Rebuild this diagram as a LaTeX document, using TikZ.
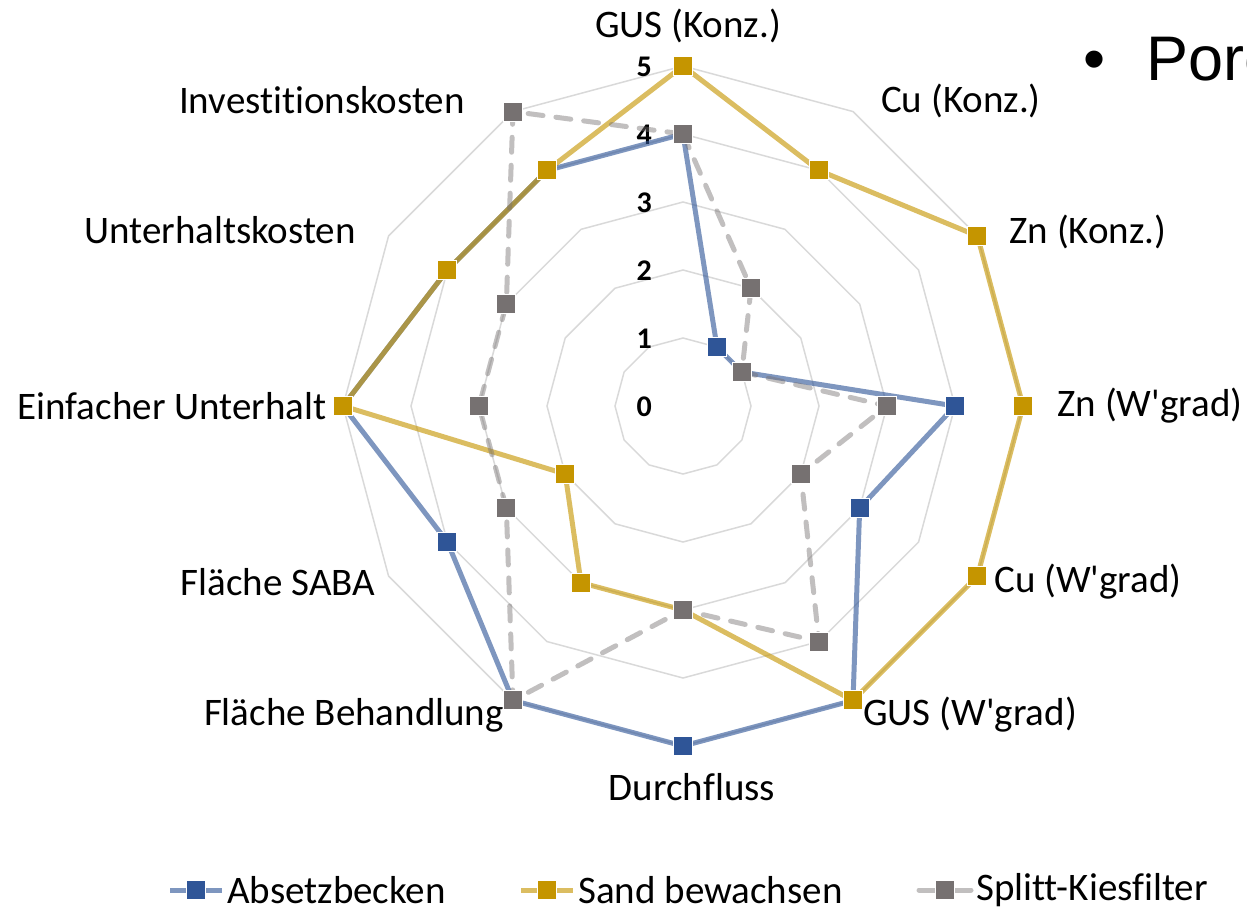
\documentclass[tikz,border=0pt]{standalone}
\usepackage{fontspec}
\setmainfont{Carlito}[Ligatures={TeX,NoCommon,NoContextual,NoRare}]
\newfontfamily\slidefont{Liberation Sans}
\usetikzlibrary{positioning, calc}

\definecolor{absblue}{HTML}{2F5597}
\definecolor{sandgold}{HTML}{C59500}
\definecolor{kiesgrey}{HTML}{767171}
\definecolor{gridgrey}{HTML}{D9D9D9}

\begin{document}
\begin{tikzpicture}[
			x=1pt, y=1pt,
			ring/.style={draw=gridgrey, line width=1.5pt},
			series/.style={line width=5pt, line join=round, draw opacity=0.62},
			dashseries/.style={series, draw opacity=0.45, line cap=round, dash pattern=on 15pt off 13pt},
			marker/.style={rectangle, draw=white, line width=1pt, minimum size=19pt, inner sep=0pt},
			axislabel/.style={font=\fontsize{39}{47}\selectfont, inner sep=0pt},
			tick/.style={font=\fontsize{30}{36}\selectfont\bfseries, anchor=east, inner sep=0pt},
			legtext/.style={font=\fontsize{39}{47}\selectfont, inner sep=0pt, right=5pt}
			]
			
			\useasboundingbox (0,0) rectangle (1247,-913);
			
			\begin{scope}[shift={(683,-406)}]
			% Grid rings
			\foreach \k in {1,...,5}
			\draw[ring] (90:68*\k) \foreach \a in {1,...,11}{ -- (90-30*\a:68*\k)} -- cycle;
			
			% Scale
			\foreach \k in {0,...,5}
			\node[tick] (tick-\k) at (-31,68*\k-1) {\k};
			
			% Absetzbecken
			\foreach \v [count=\i from 0] in {4,1,1,4,3,5,5,5,4,5,4,4}
			\coordinate (ab-\i) at (90-30*\i:68*\v);
			\draw[series, absblue] (ab-0) \foreach \i in {1,...,11}{ -- (ab-\i)} -- cycle;
			\foreach \i in {0,...,11}
			\node[marker, fill=absblue] (abm-\i) at (ab-\i) {};
			
			% Sand bewachsen
			\foreach \v [count=\i from 0] in {5,4,5,5,5,5,3,3,2,5,4,4}
			\coordinate (sb-\i) at (90-30*\i:68*\v);
			\draw[series, sandgold] (sb-0) \foreach \i in {1,...,11}{ -- (sb-\i)} -- cycle;
			\foreach \i in {0,...,11}
			\node[marker, fill=sandgold] (sbm-\i) at (sb-\i) {};
			
			% Splitt-Kiesfilter
			\foreach \v [count=\i from 0] in {4,2,1,3,2,4,3,5,3,3,3,5}
			\coordinate (sk-\i) at (90-30*\i:68*\v);
			\draw[dashseries, kiesgrey] (sk-0) \foreach \i in {1,...,11}{ -- (sk-\i)} -- cycle;
			\foreach \i in {0,...,11}
			\node[marker, fill=kiesgrey] (skm-\i) at (sk-\i) {};
			\end{scope}
			
			% Axis labels
			\foreach \name/\x/\y [count=\i from 0] in {
				GUS (Konz.)/688/26, Cu (Konz.)/961/101, Zn (Konz.)/1088/232,
				Zn (W\textquotesingle grad)/1150/406, Cu (W\textquotesingle grad)/1088/582,
				GUS (W\textquotesingle grad)/970/715, Durchfluss/692/787,
				Fläche Behandlung/354/715, Fläche SABA/278/582,
				Einfacher Unterhalt/172/406, Unterhaltskosten/220/230,
				Investitionskosten/322/100}
			\node[axislabel] (lab-\i) at (\x,-\y) {\name};
			
			% Legend
			\coordinate (legab-l) at (170,-890);
			\coordinate (legab-r) at (222,-890);
			\draw[series, absblue] (legab-l) -- (legab-r);
			\node[marker, fill=absblue] (legab) at ($(legab-l)!0.5!(legab-r)$) {};
			\node[legtext] (legab-t) at (legab-r) {Absetzbecken};
			
			\coordinate (legsb-l) at (521,-890);
			\coordinate (legsb-r) at (573,-890);
			\draw[series, sandgold] (legsb-l) -- (legsb-r);
			\node[marker, fill=sandgold] (legsb) at ($(legsb-l)!0.5!(legsb-r)$) {};
			\node[legtext] (legsb-t) at (legsb-r) {Sand bewachsen};
			
			\coordinate (legsk-l) at (919,-890);
			\coordinate (legsk-r) at (971,-890);
			\draw[series, draw opacity=0.45, kiesgrey, line cap=round] (legsk-l) -- (legsk-r);
			\node[marker, fill=kiesgrey] (legsk) at ($(legsk-l)!0.5!(legsk-r)$) {};
			\node[legtext] (legsk-t) at (legsk-r) {Splitt-Kiesfilter};
			
			% Slide text at the edge
			\node[font=\fontsize{63}{75}\slidefont, anchor=base, inner sep=0pt] (bullet) at (1095,-80) {•};
			\node[font=\fontsize{63}{75}\slidefont, anchor=base west, inner sep=0pt] (pore) at (1146,-80) {Pore};
			
		\end{tikzpicture}
\end{document}
